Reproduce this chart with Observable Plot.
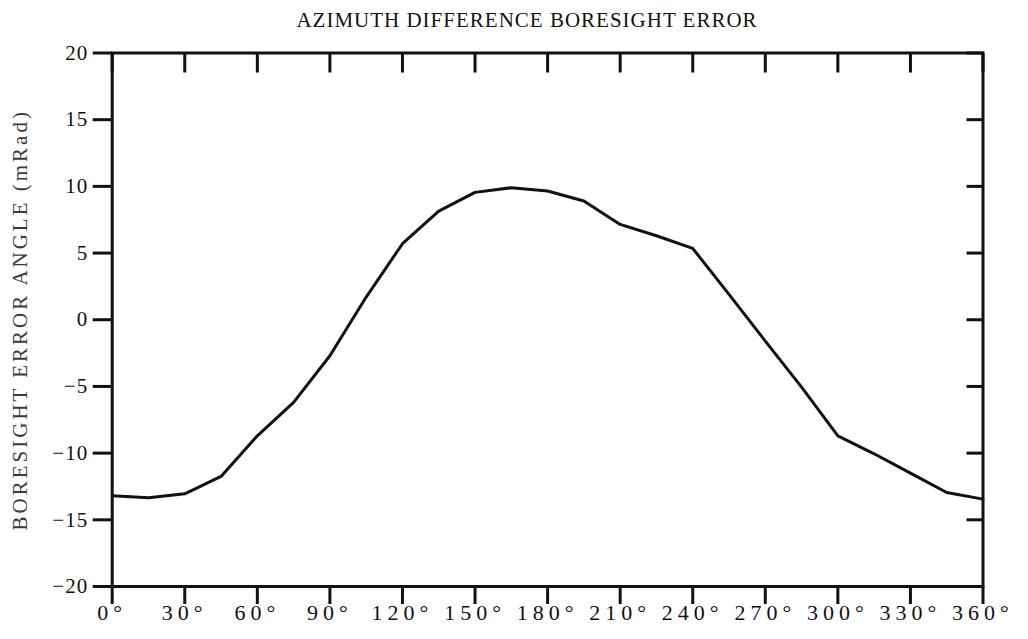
<!DOCTYPE html>
<html>
<head>
<meta charset="utf-8">
<script src="https://cdn.jsdelivr.net/npm/d3@7"></script>
<script src="https://cdn.jsdelivr.net/npm/@observablehq/plot@0.6"></script>
<style>
  body { margin: 0; background: #fff; }
  #wrap { position: relative; width: 1028px; height: 40px; }
  #title { position: absolute; top: 10px; left: 247px; width: 560px; text-align: center;
    font-family: "Liberation Serif", serif; font-size: 21px; line-height: 21px; letter-spacing: 1px; color: #111; }
  svg text { font-family: "Liberation Serif", serif; }
  g[aria-label="y-axis label"] text { letter-spacing: 3px; fill: #3a3a3a; }
  g[aria-label="x-axis tick label"] text { letter-spacing: 5px; }
  g[aria-label="y-axis tick label"] text { letter-spacing: 1px; }
</style>
</head>
<body>
<div id="wrap"><div id="title">AZIMUTH DIFFERENCE BORESIGHT ERROR</div></div>
<div id="chart"></div>
<script>
const azimuth = [0, 15, 30, 45, 60, 75, 90, 105, 120, 135, 150, 165, 180, 195, 210, 225, 240, 255, 270, 285, 300, 315, 330, 345, 360];
const errorAngle = [-13.2, -13.35, -13.05, -11.75, -8.7, -6.2, -2.7, 1.7, 5.7, 8.15, 9.55, 9.9, 9.65, 8.9, 7.15, 6.3, 5.35, 1.9, -1.6, -5.05, -8.7, -10.05, -11.5, -12.95, -13.45];
const xTicks = [0, 30, 60, 90, 120, 150, 180, 210, 240, 270, 300, 330, 360];
const yTicks = [-20, -15, -10, -5, 0, 5, 10, 15, 20];
const yLabel = "BORESIGHT ERROR ANGLE (mRad)";

const data = azimuth.map((a, i) => ({az: a, err: errorAngle[i]}));

const chart = Plot.plot({
  width: 1028,
  height: 599,
  marginTop: 12.5,
  marginBottom: 53,
  marginLeft: 111.7,
  marginRight: 45.5,
  style: {fontFamily: "Liberation Serif, serif", color: "#111", background: "#fff"},
  x: {domain: [0, 360]},
  y: {domain: [-20, 20]},
  marks: [
    Plot.frame({strokeWidth: 3, stroke: "#111"}),
    Plot.axisY({ticks: yTicks, tickSize: 19, tickPadding: 5, fontSize: 21, strokeWidth: 3,
      tickFormat: d => String(d).replace("-", "−"),
      label: yLabel, labelAnchor: "center", labelOffset: 100, labelArrow: "none"}),
    Plot.axisY({ticks: yTicks, anchor: "right", tickSize: 17, dx: -17, text: null, strokeWidth: 3, label: null}),
    Plot.axisX({ticks: xTicks, anchor: "top", tickSize: 19, dy: 19, text: null, strokeWidth: 3, label: null}),
    Plot.axisX({ticks: xTicks, tickSize: 18, tickPadding: 0, fontSize: 22, strokeWidth: 3,
      tickFormat: d => d + "°", label: null}),
    Plot.line(data, {x: "az", y: "err", stroke: "#111", strokeWidth: 3})
  ]
});
document.getElementById("chart").appendChild(chart);
</script>
</body>
</html>
